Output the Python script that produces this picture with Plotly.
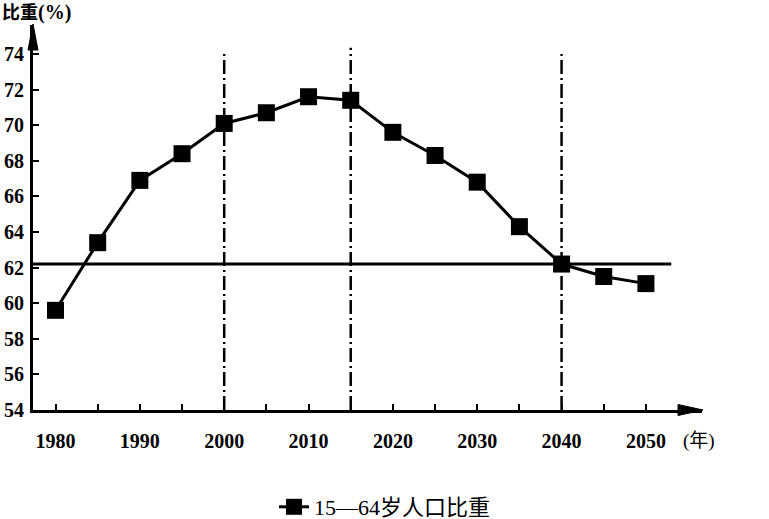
import plotly.graph_objects as go

# ---- data ----
years = [1980, 1985, 1990, 1995, 2000, 2005, 2010, 2015, 2020, 2025, 2030, 2035, 2040, 2045, 2050]
share = [59.6, 63.4, 66.9, 68.4, 70.1, 70.7, 71.6, 71.4, 69.6, 68.3, 66.8, 64.3, 62.2, 61.5, 61.1]
series_name = "15—64岁人口比重"

ref_level = 62.2
ref_level_end = 2053
ref_years = [2000, 2015, 2040]
ref_tops = [74.1, 74.35, 74.1]

x_tick_vals = list(range(1980, 2051, 5))
x_tick_text = [str(v) if v % 10 == 0 else "" for v in x_tick_vals]
y_tick_vals = list(range(54, 75, 2))
y_tick_text = [str(v) for v in y_tick_vals]

x_range = [1977.33, 2056.65]
y_range = [54, 75.63]

SERIF = "Liberation Serif, Noto Sans CJK SC, serif"

fig = go.Figure()
fig.add_trace(go.Scatter(
    x=years, y=share, name=series_name, mode="lines+markers",
    line=dict(color="black", width=3),
    marker=dict(symbol="square", size=17, color="black"),
))

# reference lines
for yr, top in zip(ref_years, ref_tops):
    fig.add_shape(type="line", xref="x", yref="y", x0=yr, x1=yr, y0=y_range[0], y1=top,
                  line=dict(color="black", width=2.5, dash="14px,4px,2px,4px"), layer="below")
fig.add_shape(type="line", xref="x", yref="y", x0=x_range[0], x1=ref_level_end,
              y0=ref_level, y1=ref_level, line=dict(color="black", width=3), layer="below")

# axis arrowheads (paper coords)
W, H = 669.0, 385.0
def px(xp):
    return (xp - 33) / W
def py(yp):
    return (410 - yp) / H
fig.add_shape(type="path", xref="paper", yref="paper",
              path=f"M {px(33)} {py(24)} L {px(28)} {py(50)} L {px(38)} {py(50)} Z",
              fillcolor="black", line=dict(color="black", width=1))
fig.add_shape(type="path", xref="paper", yref="paper",
              path=f"M {px(703)} {py(410)} L {px(678)} {py(404.5)} L {px(678)} {py(415.5)} Z",
              fillcolor="black", line=dict(color="black", width=1))

fig.add_annotation(xref="paper", yref="paper", x=px(0), y=py(13), xanchor="left", yanchor="middle",
                   text="<b>比重<span style='font-size:20px'>(%)</span></b>", showarrow=False,
                   font=dict(family=SERIF, size=18, color="black"))
fig.add_annotation(xref="paper", yref="paper", x=px(699), y=py(441), xanchor="center", yanchor="middle",
                   text="(年)", showarrow=False,
                   font=dict(family=SERIF, size=19, color="black"))

fig.update_xaxes(range=x_range, showgrid=False, zeroline=False,
                 showline=True, linecolor="black", linewidth=3,
                 ticks="inside", ticklen=6, tickwidth=2, tickcolor="black",
                 tickvals=x_tick_vals, ticktext=x_tick_text,
                 ticklabelstandoff=11,
                 tickfont=dict(family=SERIF, size=20, color="black", weight="bold"))
fig.update_yaxes(range=y_range, showgrid=False, zeroline=False,
                 showline=True, linecolor="black", linewidth=3,
                 ticks="inside", ticklen=6, tickwidth=2, tickcolor="black",
                 tickvals=y_tick_vals, ticktext=y_tick_text,
                 ticklabelstandoff=2,
                 tickfont=dict(family=SERIF, size=20, color="black", weight="bold"))

fig.update_layout(
    width=769, height=519,
    margin=dict(l=33, r=67, t=25, b=109, autoexpand=False),
    plot_bgcolor="white", paper_bgcolor="white",
    showlegend=True,
    legend=dict(orientation="h", x=px(274), xanchor="left", y=py(507), yanchor="middle",
                font=dict(family=SERIF, size=22, color="black"),
                bgcolor="rgba(0,0,0,0)", itemsizing="trace"),
)

fig.write_html("out.html")
